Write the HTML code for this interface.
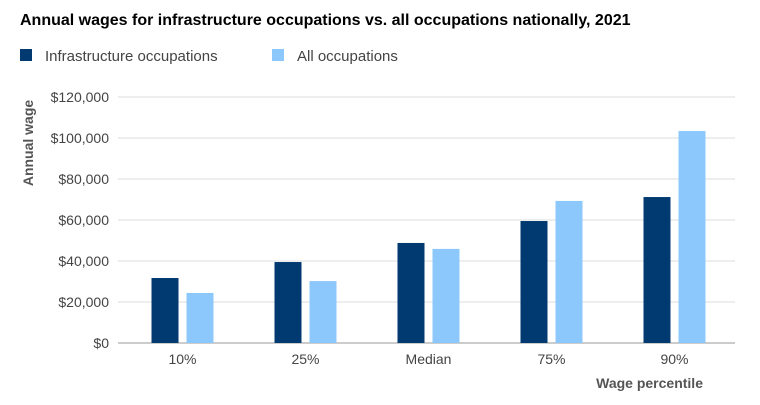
<!DOCTYPE html>
<html><head><meta charset="utf-8"><style>
body{margin:0;background:#fff;font-family:"Liberation Sans",sans-serif}
svg text{font-family:"Liberation Sans",sans-serif}
</style></head><body>
<svg id="c" width="760" height="400">
<text x="20" y="25" font-size="16" font-weight="bold" fill="#000">Annual wages for infrastructure occupations vs. all occupations nationally, 2021</text>
<rect x="20" y="49" width="12" height="12" fill="#003a70"/>
<text x="45" y="61" font-size="15" fill="#444">Infrastructure occupations</text>
<rect x="272" y="49" width="12" height="12" fill="#8cc8fc"/>
<text x="297" y="61" font-size="15" fill="#444">All occupations</text>
<text transform="translate(33,143) rotate(-90)" text-anchor="middle" font-size="14" font-weight="bold" fill="#555">Annual wage</text>
<text x="703" y="388" text-anchor="end" font-size="14" font-weight="bold" fill="#555">Wage percentile</text>
<g id="g"></g>
</svg>
<script>
const categories=["10%","25%","Median","75%","90%"];
const infraValues=[31700,39500,48800,59500,71200];
const allValues=[24400,30200,45900,69300,103400];
const yTicks=[0,20000,40000,60000,80000,100000,120000];
const ns="http://www.w3.org/2000/svg",g=document.getElementById("g");
const x0=120,bw=123,y0=343,yMax=120000,yH=246;
const y=v=>y0-v/yMax*yH;
function mk(t,a){const e=document.createElementNS(ns,t);for(const k in a)e.setAttribute(k,a[k]);g.appendChild(e);return e;}
yTicks.forEach(t=>{
 const l=mk("line",{x1:118,x2:735,y1:y(t),y2:y(t),stroke:t===0?"#999":"#ddd","stroke-width":1});
 
 
 const tx=mk("text",{x:109,y:y(t)+5,"text-anchor":"end","font-size":14,fill:"#444"});
 tx.textContent="$"+t.toLocaleString("en-US");
 
 
});
categories.forEach((c,i)=>{
 const cx=x0+bw*i+bw/2;
 const b1=mk("rect",{x:cx-30,y:y(infraValues[i]),width:27,height:y0-y(infraValues[i]),fill:"#003a70"});
 
 
 const b2=mk("rect",{x:cx+5,y:y(allValues[i]),width:27,height:y0-y(allValues[i]),fill:"#8cc8fc"});
 
 
 const t=mk("text",{x:cx+1,y:364,"text-anchor":"middle","font-size":14,fill:"#444"});
 t.textContent=c;
 
 
});
</script>
</body></html>
